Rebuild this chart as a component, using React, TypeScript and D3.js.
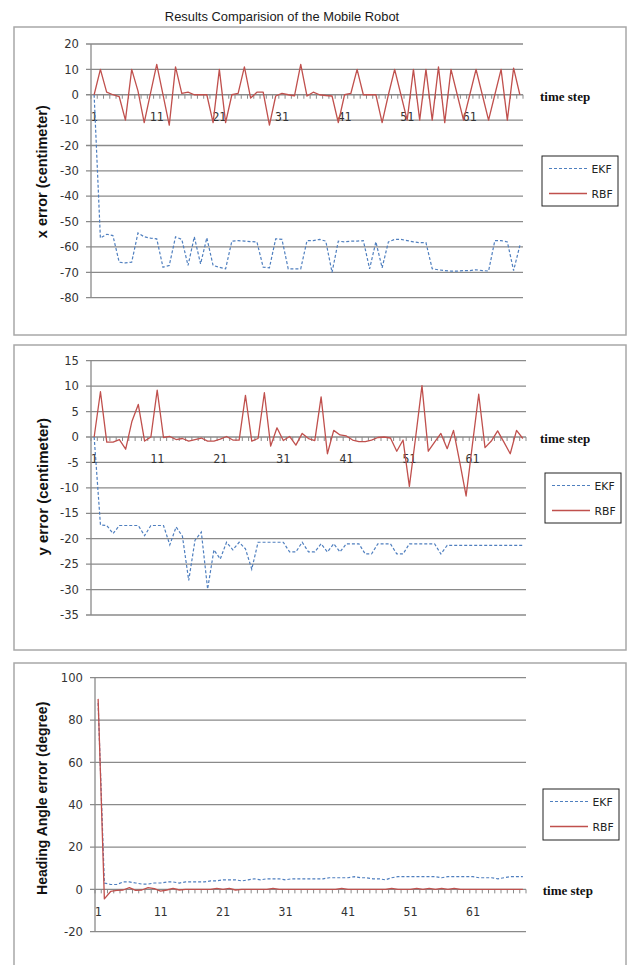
import React from "react";
import * as d3 from "d3";

// categories (time steps)
const timeSteps: number[] = d3.range(1, 70);
const xTickLabels: number[] = [1, 11, 21, 31, 41, 51, 61];

// x error (centimeter)
const xErrEKF: number[] = [
  0, -56.5, -55, -55.5, -66, -66.3, -66, -54.5, -56, -56.5,
  -56.8, -68, -67.3, -56, -57, -67.3, -56, -66.7, -56.4, -67.3,
  -68, -68.6, -57.7, -57.5, -57.7, -57.9, -58, -68, -68.2, -56.8,
  -57, -68.6, -68.6, -68.6, -57.5, -57.5, -57, -57.7, -70, -57.7,
  -58, -57.7, -57.7, -57.5, -68.6, -58, -68.2, -58, -57, -57,
  -57.5, -58, -58.3, -58.3, -68.6, -69, -69.3, -69.5, -69.5, -69.3,
  -69.3, -69, -69.3, -69.5, -57.5, -57.5, -58, -69.3, -59.4,
];
const xErrRBF: number[] = [
  0, 10, 1, 0, -0.7, -10, 10, 1.5, -11, 0.5,
  12, 0, -12, 11, 0.5, 1, 0, 0, 0, -11,
  10, -11, 0, 0.5, 11, -1.3, 1, 1, -12, -0.5,
  0.5, 0, -0.4, 12, -0.5, 1, 0, -0.3, -0.5, -11,
  0, 0.5, 10, 0, 0, 0, -11, 0, 10, 0,
  -10, 10, -10, 10, -10, 11, -11, 10, 0, -10,
  0, 10, 0, -10, 0, 10, -10, 10.5, 0,
];

// y error (centimeter)
const yErrEKF: number[] = [
  0, -17.3, -17.4, -19, -17.4, -17.4, -17.4, -17.4, -19.4, -17.4,
  -17.4, -17.4, -21.2, -17.7, -19.5, -28.2, -20.3, -18.7, -29.9, -22.2,
  -24, -20.7, -22.2, -20.7, -22, -26, -20.7, -20.7, -20.7, -20.7,
  -20.7, -22.6, -22.6, -20.7, -22.6, -22.6, -21, -22.6, -21, -22.6,
  -21, -21, -21, -23, -23, -21, -21, -21, -23, -23,
  -21, -21, -21, -21, -21, -23, -21.3, -21.3, -21.3, -21.3,
  -21.3, -21.3, -21.3, -21.3, -21.3, -21.3, -21.3, -21.3, -21.3,
];
const yErrRBF: number[] = [
  0, 8.9, -1, -1, -0.5, -2.4, 3.1, 6.4, -0.8, 0,
  9.2, -0.1, 0.1, -0.5, -0.3, -0.8, -0.5, -0.2, -0.8, -0.8,
  -0.4, 0.1, -0.6, -0.6, 8.2, -0.8, -0.3, 8.7, -1.8, 1.8,
  -0.7, 0.1, -1.6, 0.7, -0.3, -0.7, 7.9, -3.3, 1.3, 0.4,
  0.2, -0.6, -0.9, -0.9, -0.6, -0.1, 0, -0.2, -2.8, -0.6,
  -9.7, 0, 10.1, -2.8, -1, 0.7, -2.3, 1.3, -5, -11.6,
  -1.5, 8.4, -2.1, -0.8, 1.2, -1, -3.3, 1.3, -0.3,
];

// heading angle error (degree)
const headEKF: number[] = [
  88, 3, 2.3, 2.3, 3.5, 3.5, 3, 2.5, 2.5, 3,
  3, 3.5, 3.5, 3, 3.5, 3.5, 3.5, 3.5, 4, 4,
  4.5, 4.5, 4.5, 4, 4.5, 5, 4.5, 5, 5, 5,
  4.5, 5, 5, 5, 5, 5, 5, 5.5, 5.5, 5.5,
  5.5, 6, 5.5, 5.5, 5, 5, 4.5, 5.5, 6, 6,
  6, 6, 6, 6, 6, 5.5, 6, 6, 6, 6,
  6, 5.5, 5.5, 5.5, 5, 5.5, 6, 6, 6,
];
const headRBF: number[] = [
  90, -4.5, -1, -0.5, -0.3, 0.8, -0.5, -0.3, 0.8, 0.3,
  -0.8, -0.3, 0.5, -0.3, 0, 0, 0, 0, 0, 0.5,
  0, 0.5, -0.3, 0, 0, 0, 0, 0, 0.5, 0,
  0, 0, 0, 0, 0, 0, 0, 0, 0, 0.5,
  0, 0, 0, 0, 0, 0, 0, 0.5, 0, 0,
  0, 0.5, 0, 0.5, 0, 0.5, 0, 0.5, 0, 0,
  0, 0, 0, 0, 0, 0, 0, 0, 0,
];

const xErrTicks: number[] = [20, 10, 0, -10, -20, -30, -40, -50, -60, -70, -80];
const yErrTicks: number[] = [15, 10, 5, 0, -5, -10, -15, -20, -25, -30, -35];
const headTicks: number[] = [100, 80, 60, 40, 20, 0, -20];

const seriesNames = ["EKF", "RBF"];
const title = "Results Comparision of the Mobile Robot";

const EKF_COLOR = "#4f7fbf";
const RBF_COLOR = "#c0504d";
const GRID = "#8a8a8a";

type PanelProps = {
  box: { x: number; y: number; w: number; h: number };
  plot: { left: number; right: number; top: number; bottom: number };
  yTicks: number[];
  ekf: number[];
  rbf: number[];
  yLabel: string;
  yLabelSize: number;
  yLabelY: number;
  legend: { x: number; y: number; w: number; h: number };
  timeStepX: number;
};

function Panel(p: PanelProps) {
  const { box, plot, yTicks, ekf, rbf, legend } = p;
  const x = d3
    .scaleLinear()
    .domain([0.5, timeSteps.length + 0.5])
    .range([plot.left, plot.right]);
  const y = d3
    .scaleLinear()
    .domain([d3.min(yTicks)!, d3.max(yTicks)!])
    .range([plot.bottom, plot.top]);
  const line = d3
    .line<number>()
    .x((_, i) => x(timeSteps[i]))
    .y((d) => y(d));
  const y0 = y(0);
  const boundaries = d3.range(0, timeSteps.length + 1).map((k) => k + 0.5);
  return (
    <g>
      <rect x={box.x} y={box.y} width={box.w} height={box.h} fill="#fff" stroke="#a8a8a8" strokeWidth={1.5} />
      {yTicks.map((t) => (
        <g key={"g" + t}>
          <line x1={plot.left - 5} x2={plot.right} y1={y(t)} y2={y(t)} stroke={GRID} strokeWidth={1.3} />
          <text
            x={plot.left - 12}
            y={y(t) + 4.2}
            textAnchor="end"
            fontFamily="DejaVu Sans"
            fontSize={11.6}
            fill="#333"
          >
            {t}
          </text>
        </g>
      ))}
      <line x1={plot.left} x2={plot.left} y1={plot.top} y2={plot.bottom} stroke={GRID} strokeWidth={1.3} />
      {boundaries.map((b) => (
        <line key={"t" + b} x1={x(b)} x2={x(b)} y1={y0} y2={y0 + 4} stroke={GRID} strokeWidth={1} />
      ))}
      {xTickLabels.map((t) => (
        <text
          key={"xl" + t}
          x={x(t)}
          y={y0 + 26.5}
          textAnchor="middle"
          fontFamily="DejaVu Sans Mono"
          fontSize={11.5}
          fill="#333"
        >
          {t}
        </text>
      ))}
      <path d={line(ekf) || ""} fill="none" stroke={EKF_COLOR} strokeWidth={1.2} strokeDasharray="3,2" />
      <path d={line(rbf) || ""} fill="none" stroke={RBF_COLOR} strokeWidth={1.3} strokeLinejoin="round" />
      <text
        x={p.timeStepX}
        y={y0 + 6}
        fontFamily="Liberation Serif"
        fontWeight="bold"
        fontSize={13}
        fill="#111"
      >
        time step
      </text>
      <text
        transform={`translate(42,${p.yLabelY}) rotate(-90)`}
        textAnchor="middle"
        dominantBaseline="central"
        fontFamily="Liberation Sans"
        fontWeight="bold"
        fontSize={p.yLabelSize}
        fill="#111"
      >
        {p.yLabel}
      </text>
      <rect x={legend.x} y={legend.y} width={legend.w} height={legend.h} fill="#fff" stroke="#222" strokeWidth={1} />
      {seriesNames.map((name, i) => {
        const ly = legend.y + 12.5 + i * 25;
        return (
          <g key={name}>
            <line
              x1={legend.x + 7}
              x2={legend.x + 45}
              y1={ly}
              y2={ly}
              stroke={i === 0 ? EKF_COLOR : RBF_COLOR}
              strokeWidth={i === 0 ? 1.2 : 1.3}
              strokeDasharray={i === 0 ? "3,2" : undefined}
            />
            <text x={legend.x + 49.5} y={ly + 4} fontFamily="DejaVu Sans" fontSize={10.8} fill="#222">
              {name}
            </text>
          </g>
        );
      })}
    </g>
  );
}

export default function App() {
  return (
    <div style={{ position: "absolute", left: 0, top: 0 }}>
      <svg width={629} height={965} style={{ display: "block", background: "#fff" }}>
        <rect x={0} y={0} width={629} height={965} fill="#fff" />
        <text x={282} y={21} textAnchor="middle" fontFamily="Liberation Sans" fontSize={12.9} fill="#1a1a1a">
          {title}
        </text>
        <Panel
          box={{ x: 14, y: 27, w: 612, h: 308 }}
          plot={{ left: 91, right: 523, top: 44, bottom: 297.7 }}
          yTicks={xErrTicks}
          ekf={xErrEKF}
          rbf={xErrRBF}
          yLabel="x error (centimeter)"
          yLabelSize={14.5}
          yLabelY={171.7}
          legend={{ x: 542, y: 156, w: 76, h: 50 }}
          timeStepX={540}
        />
        <Panel
          box={{ x: 14, y: 345, w: 612, h: 305 }}
          plot={{ left: 91, right: 526, top: 360.7, bottom: 615 }}
          yTicks={yErrTicks}
          ekf={yErrEKF}
          rbf={yErrRBF}
          yLabel="y error (centimeter)"
          yLabelSize={15}
          yLabelY={486.7}
          legend={{ x: 545, y: 473, w: 76, h: 50 }}
          timeStepX={540}
        />
        <Panel
          box={{ x: 14, y: 663, w: 612, h: 312 }}
          plot={{ left: 95, right: 526, top: 677.7, bottom: 931.7 }}
          yTicks={headTicks}
          ekf={headEKF}
          rbf={headRBF}
          yLabel="Heading Angle  error (degree)"
          yLabelSize={14}
          yLabelY={798.3}
          legend={{ x: 543, y: 789, w: 76, h: 51 }}
          timeStepX={542.7}
        />
      </svg>
    </div>
  );
}
